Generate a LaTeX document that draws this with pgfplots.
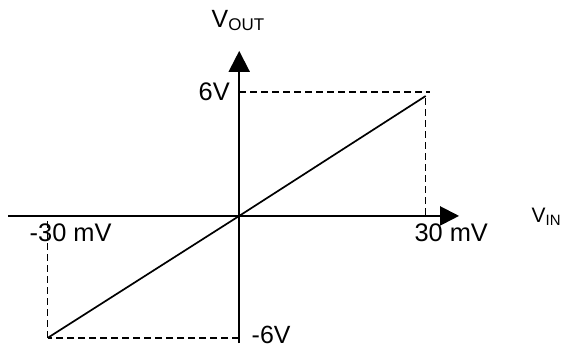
\documentclass[border=0pt]{standalone}
\usepackage{fontspec}
\setmainfont{Liberation Sans}
\usepackage{pgfplots}
\pgfplotsset{compat=1.18}
\usetikzlibrary{arrows.meta}
\begin{document}
\begin{tikzpicture}[x=1bp,y=1bp]
\useasboundingbox (0,0) rectangle (565,-349);
\begin{axis}[
  at={(8bp,-343bp)}, anchor=south west,
  scale only axis, width=451.08bp, height=292.1bp,
  xmin=-36.7, xmax=34.9, ymin=-6.2, ymax=8.05,
  axis lines=none, ticks=none, clip=false,
  every node/.style={inner sep=0pt},
]
% axes
\addplot[black, line width=2bp, -{Triangle[length=19bp,width=19bp]}] coordinates {(-36.7,0) (34.9,0)};
\addplot[black, line width=2bp, -{Triangle[length=21bp,width=21bp]}] coordinates {(0,-6.2) (0,8.05)};
% dashed guides
\addplot[black, line width=1.5bp, dash pattern=on 7bp off 4bp] coordinates {(0,6.05) (30.3,6.05)};
\addplot[black, line width=1.5bp, dash pattern=on 7bp off 4bp] coordinates {(29.6,5.75) (29.6,0)};
\addplot[black, line width=1.5bp, dash pattern=on 7bp off 4bp] coordinates {(0,-5.95) (-30.4,-5.95)};
\addplot[black, line width=1.5bp, dash pattern=on 7bp off 4bp] coordinates {(-30.4,-5.95) (-30.4,0)};
% transfer characteristic
\addplot[black, line width=1.7bp] coordinates {(-30.4,-5.95) (0,0) (29.6,5.85)};
% labels
\node[anchor=base, font=\fontsize{25.5}{30}\selectfont] at (axis cs:-26.75,-1.27) {-30 mV};
\node[anchor=base, font=\fontsize{25.5}{30}\selectfont] at (axis cs:33.65,-1.27) {30 mV};
\node[anchor=base east, font=\fontsize{25.5}{30}\selectfont] at (axis cs:-0.95,5.61) {6V};
\node[anchor=base west, font=\fontsize{25}{30}\selectfont] at (axis cs:1.43,-6.22) {-6V};
\node[anchor=base west, font=\fontsize{25}{30}\selectfont] at (axis cs:-4.92,9.17) {V{\fontsize{17}{17}\selectfont\raisebox{-2.6bp}{OUT}}};
\node[anchor=base west, font=\fontsize{21}{25}\selectfont] at (axis cs:45.87,-0.34) {V{\fontsize{15}{15}\selectfont\raisebox{-3bp}{IN}}};
\end{axis}
\end{tikzpicture}
\end{document}
